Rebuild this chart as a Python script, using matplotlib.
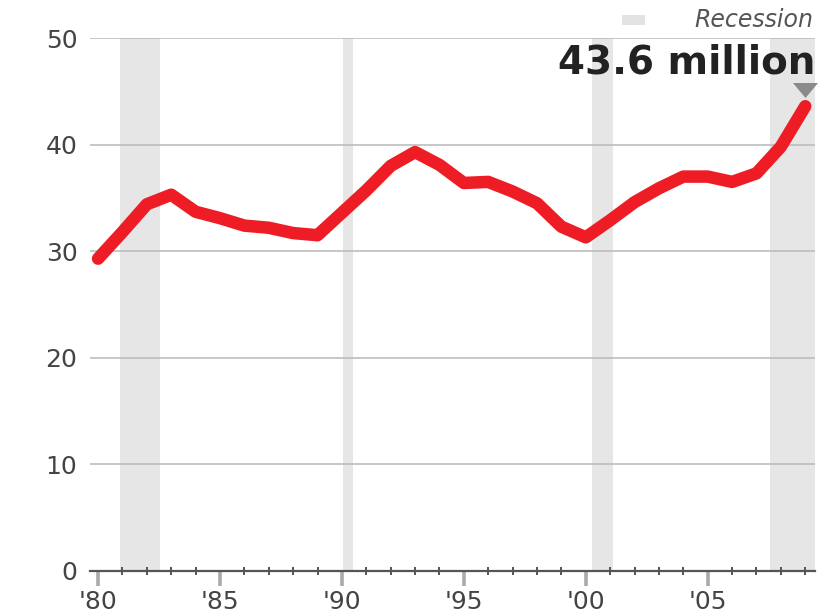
import numpy as np
import matplotlib
matplotlib.use('Agg')
import matplotlib.pyplot as plt
from matplotlib.patches import Rectangle
from matplotlib.transforms import offset_copy

# people in poverty, millions
years = list(range(1980, 2010))
poverty = [29.3, 31.8, 34.4, 35.3, 33.7, 33.1, 32.4, 32.2, 31.7, 31.5,
           33.6, 35.7, 38.0, 39.3, 38.1, 36.4, 36.5, 35.6, 34.5, 32.3,
           31.3, 32.9, 34.6, 35.9, 37.0, 37.0, 36.5, 37.3, 39.8, 43.6]

recessions = [(1980.9, 1982.55), (1990.05, 1990.45), (2000.25, 2001.1), (2007.55, 2009.4)]

y_ticks = [0, 10, 20, 30, 40, 50]
x_major = [1980, 1985, 1990, 1995, 2000, 2005]
x_labels = ["'80", "'85", "'90", "'95", "'00", "'05"]
x_minor = [y for y in years if y not in x_major]

plt.rcParams['font.family'] = ['DejaVu Sans']

fig = plt.figure(figsize=(8.28, 6.13), dpi=100)
ax = fig.add_axes([90/828, 42/613, 725/828, 533/613])

ax.set_xlim(1979.67, 2009.4)
ax.set_ylim(0, 50)

for a, b in recessions:
    ax.axvspan(a, b, color='#e6e6e6', lw=0, zorder=0)

for v in y_ticks[1:]:
    ax.axhline(v, color='#bdbdbd', lw=1.2, zorder=1)
ax.axhline(0, color='#555555', lw=1.6, zorder=2, clip_on=False)

ax.plot(years, poverty, color='#ee1c25', lw=9, solid_capstyle='round',
        solid_joinstyle='round', zorder=3, clip_on=False)

# marker above the last point
tr = offset_copy(ax.transData, fig=fig, x=0, y=16, units='dots')
ax.plot(years[-1], poverty[-1], transform=tr, marker=[(-1, 0.6), (1, 0.6), (0, -0.6)],
        ms=18, color='#8a8a8a', mec='none', clip_on=False, zorder=4)

ax.text(2009.4, 47.7, '43.6 million', ha='right', va='center', fontsize=28,
        fontweight='bold', color='#222222')

for s in ax.spines.values():
    s.set_visible(False)

ax.set_yticks(y_ticks)
ax.set_yticklabels([str(v) for v in y_ticks])
ax.tick_params(axis='y', length=0, pad=9, labelsize=18, labelcolor='#444444')

ax.set_xticks(x_major)
ax.set_xticklabels(x_labels)
ax.set_xticks(x_minor, minor=True)
ax.tick_params(axis='x', which='major', direction='out', length=11, width=2.6,
               color='#aaaaaa', pad=3, labelsize=18, labelcolor='#444444')
ax.tick_params(axis='x', which='minor', direction='inout', length=6, width=1.4,
               color='#555555')

# legend for recession shading
fig.patches.append(Rectangle((622/828, 1 - 25/613), 23/828, 10/613,
                             transform=fig.transFigure, color='#e3e3e3', lw=0))
fig.text(813/828, 1 - 20/613, 'Recession', ha='right', va='center',
         fontsize=17, style='italic', color='#555555')

fig.savefig('out.png', dpi=100, facecolor='white')
